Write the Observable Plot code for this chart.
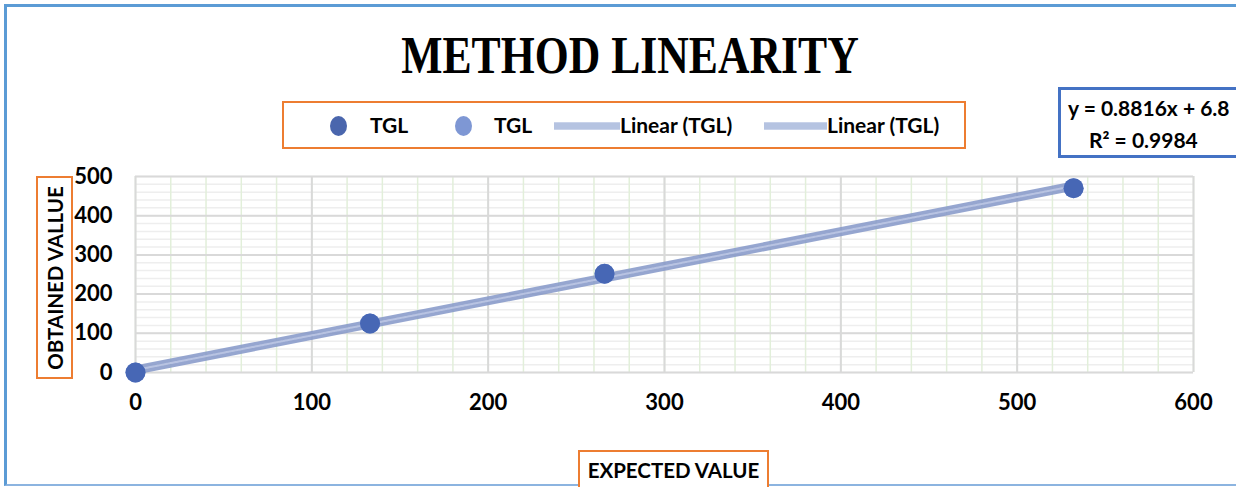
<!DOCTYPE html>
<html>
<head>
<meta charset="utf-8">
<script src="https://cdn.jsdelivr.net/npm/d3@7"></script>
<script src="https://cdn.jsdelivr.net/npm/@observablehq/plot@0.6"></script>
<style>
  html, body { margin: 0; padding: 0; background: #fff; }
  #wrap { position: relative; width: 1236px; height: 487px; overflow: hidden; font-family: Lato, "Open Sans", sans-serif; }
  #wrap svg { position: absolute; left: 0; top: 0; }
  .abs { position: absolute; box-sizing: border-box; }
  #outer { left: 4px; top: 4px; width: 1240px; height: 482px; border-left: 3px solid #5b9bd5; border-top: 3px solid #5b9bd5; border-bottom: 2px solid #8cb4e0; }
  #title { left: 0; width: 1260px; top: 26px; text-align: center; font-family: "Liberation Serif", "DejaVu Serif", serif; font-weight: bold; font-size: 52px; color: #000; line-height: 60px; transform: scaleX(0.84); transform-origin: 630px 0; }
  #legend { left: 282px; top: 101px; width: 684px; height: 48px; border: 2px solid #ed7d31; background: #fff; }
  .lg { position: absolute; top: 10px; font-weight: bold; font-size: 21px; color: #000; line-height: 24px; white-space: nowrap; }
  .dot { position: absolute; top: 13px; width: 17px; height: 20px; border-radius: 50%; }
  .ln { position: absolute; top: 19px; height: 6px; background: #b5c3e1; border-top: 1px solid #c9d3ea; border-bottom: 1px solid #c9d3ea; }
  #eq { left: 1058px; top: 87px; width: 200px; height: 71px; border: 3px solid #4472c4; background: #fff; }
  .eqt { position: absolute; font-weight: bold; font-size: 21px; color: #000; white-space: nowrap; line-height: 24px; }
  #ytitle { left: 36px; top: 176px; width: 37px; height: 203px; border: 2px solid #ed7d31; background: #fff; }
  #ytitle span { position: absolute; left: 50%; top: 50%; transform: translate(-50%, -50%) rotate(-90deg); white-space: nowrap; font-weight: bold; font-size: 20.5px; }
  #xtitle { left: 578px; top: 450px; width: 191px; height: 45px; border: 2px solid #ed7d31; background: #fff; }
  #xtitle span { position: absolute; left: 0; right: 0; top: 6px; text-align: center; font-weight: bold; font-size: 20.5px; white-space: nowrap; }
</style>
</head>
<body>
<div id="wrap">
  <div id="chart"></div>
  <div class="abs" id="outer"></div>
  <div class="abs" id="title">METHOD LINEARITY</div>
  <div class="abs" id="legend">
    <div class="dot" style="left:46px;background:#4a66ad;"></div>
    <div class="lg" style="left:86px;">TGL</div>
    <div class="dot" style="left:171px;background:#7e97d4;"></div>
    <div class="lg" style="left:210px;">TGL</div>
    <div class="ln" style="left:270px;width:66px;"></div>
    <div class="lg" style="left:336px;">Linear (TGL)</div>
    <div class="ln" style="left:480px;width:63px;"></div>
    <div class="lg" style="left:543px;">Linear (TGL)</div>
  </div>
  <div class="abs" id="eq">
    <div class="eqt" style="left:7px;top:6px;">y = 0.8816x + 6.8</div>
    <div class="eqt" style="left:28px;top:38px;">R² = 0.9984</div>
  </div>
  <div class="abs" id="ytitle"><span>OBTAINED VALLUE</span></div>
  <div class="abs" id="xtitle"><span>EXPECTED VALUE</span></div>
</div>
<script>
// Data
const expected = [0, 133, 266, 532];
const obtained = [0, 125, 252, 470];
const seriesNames = ["TGL", "TGL"];
const xTicks = [0, 100, 200, 300, 400, 500, 600];
const yTicks = [0, 100, 200, 300, 400, 500];

const points = expected.map((x, i) => ({x, y: obtained[i]}));
const xMinor = d3.range(0, 601, 20);
const yMinor = d3.range(0, 501, 20);

const chart = Plot.plot({
  width: 1236,
  height: 487,
  marginLeft: 135,
  marginRight: 43,
  marginTop: 176,
  marginBottom: 115,
  x: {domain: [0, 600]},
  y: {domain: [0, 500]},
  style: {fontFamily: "Lato, 'Open Sans', sans-serif", fontSize: "22px", fontWeight: "bold", color: "#000", background: "transparent"},
  marks: [
    Plot.ruleY(yMinor, {stroke: "#eeeeee", strokeWidth: 1.5}),
    Plot.ruleX(xMinor, {stroke: "#e2efda", strokeWidth: 1.5}),
    Plot.ruleY(yTicks, {stroke: "#d9d9d9", strokeWidth: 2}),
    Plot.ruleX(xTicks, {stroke: "#d9d9d9", strokeWidth: 2}),
    Plot.axisX({ticks: xTicks, tickSize: 0, tickPadding: 22, tickFormat: d => String(d), fontSize: 22, fontWeight: "bold", label: null}),
    Plot.axisY({ticks: yTicks, tickSize: 0, tickPadding: 23, tickFormat: d => String(d), fontSize: 22, fontWeight: "bold", label: null}),
    Plot.linearRegressionY(points, {x: "x", y: "y", ci: 0, stroke: "#8497c8", strokeWidth: 9, strokeOpacity: 0.85}),
    Plot.linearRegressionY(points, {x: "x", y: "y", ci: 0, stroke: "#c0cbe6", strokeWidth: 2, strokeOpacity: 0.8, strokeDasharray: "2,1"}),
    Plot.dot(points, {x: "x", y: "y", r: 10, fill: "#7e97d4"}),
    Plot.dot(points, {x: "x", y: "y", r: 10, fill: "#4767b5"})
  ]
});
document.getElementById("chart").appendChild(chart);
</script>
</body>
</html>
